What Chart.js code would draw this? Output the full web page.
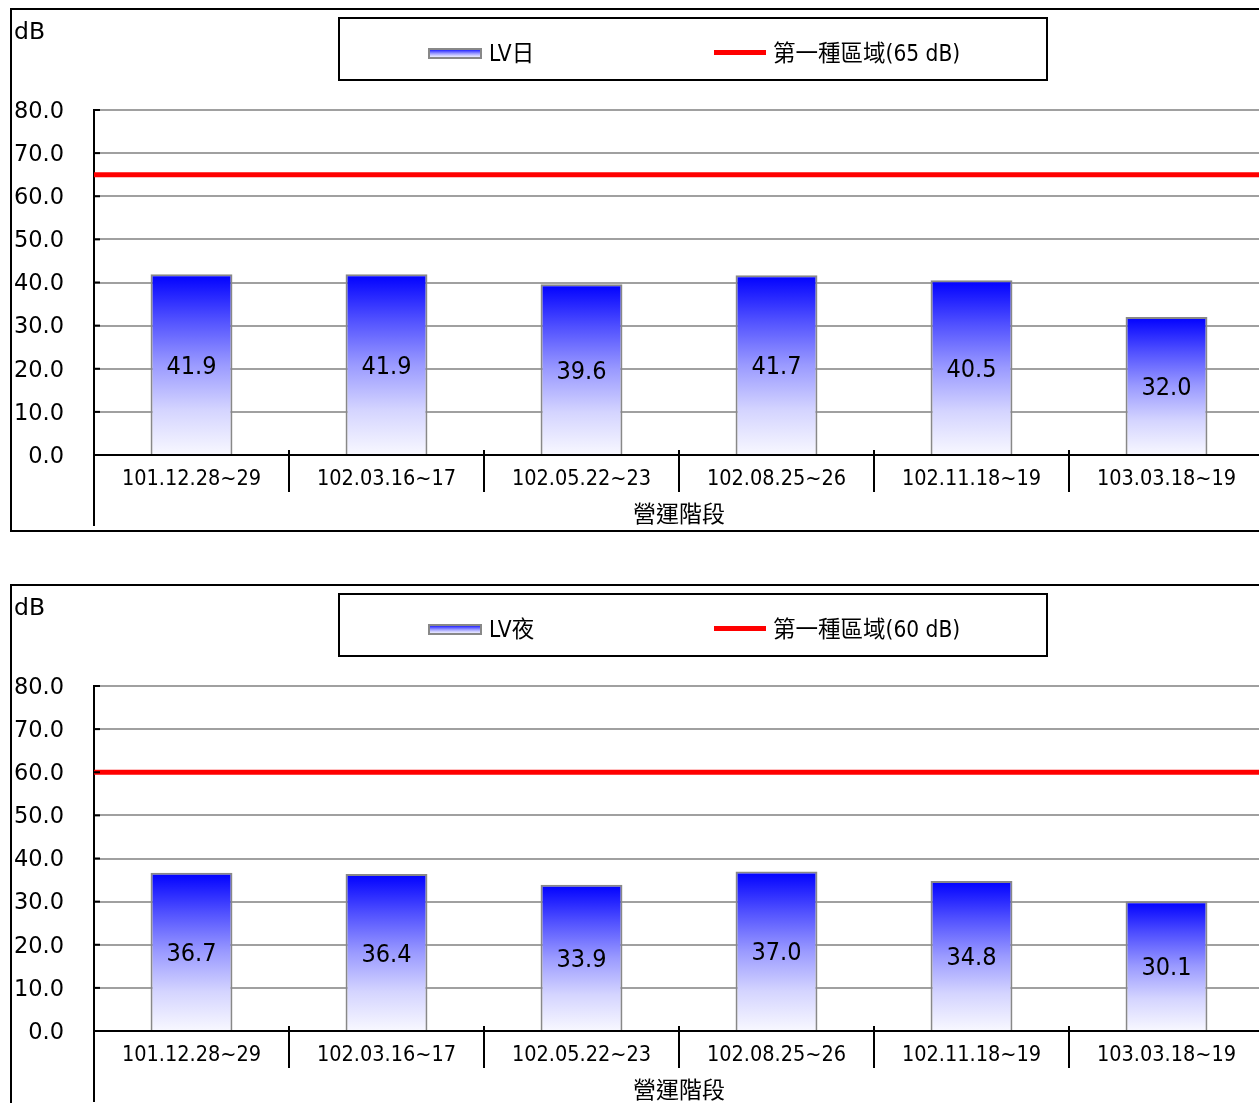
<!DOCTYPE html>
<html><head><meta charset="utf-8">
<script src="https://cdn.jsdelivr.net/npm/chart.js@4/dist/chart.umd.min.js"></script>
<style>
html,body{margin:0;padding:0;background:#fff;overflow:hidden;width:1259px;height:1103px}
.wrap{position:absolute;left:0;width:1300px;height:545px}
</style></head><body>
<div class="wrap" style="top:0"><canvas id="c1"></canvas></div>
<div class="wrap" style="top:576px"><canvas id="c2"></canvas></div>
<script>
const categories = ['101.12.28~29','102.03.16~17','102.05.22~23','102.08.25~26','102.11.18~19','103.03.18~19'];
const dayValues = [41.9, 41.9, 39.6, 41.7, 40.5, 32.0];
const nightValues = [36.7, 36.4, 33.9, 37.0, 34.8, 30.1];
const dayLimit = 65;
const nightLimit = 60;
const yTicks = [0, 10, 20, 30, 40, 50, 60, 70, 80];
const dayLabel = 'LV日';
const nightLabel = 'LV夜';
const dayLimitLabel = '第一種區域(65 dB)';
const nightLimitLabel = '第一種區域(60 dB)';
const unitLabel = 'dB';
const xTitle = '營運階段';

const FC = '"DejaVu Sans Condensed", "DejaVu Sans", "Noto Sans CJK TC", sans-serif';
const FR = '"DejaVu Sans", "Noto Sans CJK TC", sans-serif';

function addStops(g){
  g.addColorStop(0,'#0000ff');
  g.addColorStop(0.25,'#5050ff');
  g.addColorStop(0.5,'#9a9aff');
  g.addColorStop(0.75,'#d4d4ff');
  g.addColorStop(1,'#f8f8ff');
  return g;
}

const decor = {
  id:'decor',
  afterDraw(chart){
    const c = chart.ctx, a = chart.chartArea, y = chart.scales.y, x = chart.scales.x;
    c.save();
    c.strokeStyle = '#000'; c.lineWidth = 2;
    c.strokeRect(11, 9, chart.width + 20, 522);
    c.fillStyle = '#000'; c.font = '23.5px ' + FR; c.textAlign = 'left'; c.textBaseline = 'middle';
    c.fillText(unitLabel, 14, 33);
    c.beginPath(); c.moveTo(a.left, a.bottom); c.lineTo(a.left, 526); c.stroke();
    y.ticks.forEach(t => {
      const py = y.getPixelForValue(t.value);
      c.beginPath(); c.moveTo(a.left, py); c.lineTo(a.left + 6, py); c.stroke();
    });
    for (let i = 1; i < categories.length; i++) {
      const px = (x.getPixelForValue(i - 1) + x.getPixelForValue(i)) / 2;
      c.beginPath(); c.moveTo(px, a.bottom - 5); c.lineTo(px, a.bottom); c.stroke();
    }
    // legend
    c.strokeRect(339, 18, 708, 62);
    const g = addStops(c.createLinearGradient(0, 49, 0, 58));
    c.fillStyle = g; c.fillRect(429, 49, 52, 9);
    c.strokeStyle = '#888'; c.strokeRect(429, 49, 52, 9);
    c.fillStyle = '#000'; c.font = '22.5px ' + FC; c.textBaseline = 'middle'; c.textAlign = 'left';
    c.fillText(chart.data.datasets[0].label, 489, 55);
    c.fillStyle = '#ff0000'; c.fillRect(714, 50, 52, 5);
    c.fillStyle = '#000';
    c.fillText(chart.data.datasets[1].label, 773, 55);
    // data labels
    c.font = '25px ' + FC; c.textAlign = 'center'; c.textBaseline = 'middle';
    const meta = chart.getDatasetMeta(0);
    meta.data.forEach((bar, i) => {
      const v = chart.data.datasets[0].data[i];
      c.fillText(v.toFixed(1), bar.x, (bar.y + bar.base) / 2 + 3);
    });
    c.restore();
  }
};

function makeChart(id, barLabel, values, limitLabel, limit){
  return new Chart(document.getElementById(id), {
    type: 'bar',
    data: {
      labels: categories,
      datasets: [
        {
          type: 'bar', label: barLabel, data: values, xAxisID: 'x', yAxisID: 'y',
          grouped: false,
          backgroundColor: (ctx) => {
            const ch = ctx.chart;
            if (!ch.chartArea || ctx.type !== 'data') return '#0000ff';
            const top = ch.scales.y.getPixelForValue(ctx.raw);
            const bot = ch.scales.y.getPixelForValue(0);
            return addStops(ch.ctx.createLinearGradient(0, top, 0, bot));
          },
          borderColor: '#888888', borderWidth: 2, borderSkipped: 'bottom',
          categoryPercentage: 1, barPercentage: 0.42, order: 2
        },
        {
          type: 'line', label: limitLabel, data: [{x: 0, y: limit}, {x: 1, y: limit}],
          xAxisID: 'x2', yAxisID: 'y', borderColor: '#ff0000', borderWidth: 5,
          pointRadius: 0, fill: false, order: 1, clip: false
        }
      ]
    },
    options: {
      responsive: true, maintainAspectRatio: false, animation: false,
      layout: { padding: { left: 0, top: 110, right: 36, bottom: 10 } },
      plugins: { legend: { display: false }, tooltip: { enabled: false } },
      scales: {
        x: {
          type: 'category', offset: true,
          grid: { offset: true, drawOnChartArea: false, drawTicks: true, tickLength: 37, color: '#000', lineWidth: 2 },
          border: { display: true, color: '#000', width: 2 },
          ticks: { padding: -25, color: '#000', font: { family: FC, size: 21.5 }, maxRotation: 0, autoSkip: false },
          title: { display: true, text: xTitle, color: '#000', font: { family: FR, size: 23 }, padding: { top: 0, bottom: 5 } },
          afterFit: (s) => { s.height = 80; }
        },
        x2: { type: 'linear', min: 0, max: 1, offset: false, display: false, grid: { offset: false } },
        y: {
          type: 'linear', min: 0, max: 80,
          afterBuildTicks: (s) => { s.ticks = yTicks.map(v => ({ value: v })); },
          ticks: { padding: 30, labelOffset: 2, color: '#000', font: { family: FR, size: 22.5 }, callback: (v) => Number(v).toFixed(1) },
          grid: { color: '#a0a0a0', lineWidth: 2, drawTicks: false },
          border: { display: true, color: '#000', width: 2 },
          afterFit: (s) => { s.width = 94; }
        }
      }
    },
    plugins: [decor]
  });
}

makeChart('c1', dayLabel, dayValues, dayLimitLabel, dayLimit);
makeChart('c2', nightLabel, nightValues, nightLimitLabel, nightLimit);
</script>
</body></html>
